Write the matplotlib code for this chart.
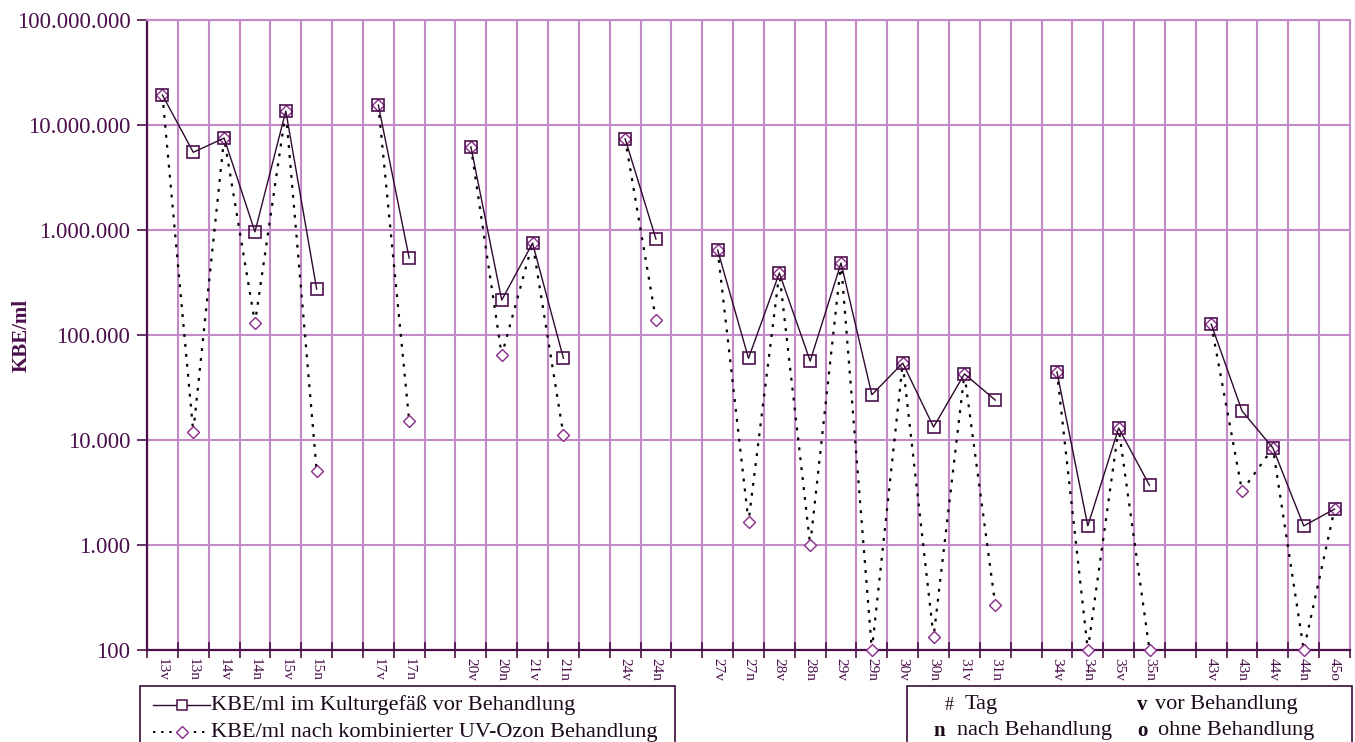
import numpy as np
import matplotlib
matplotlib.use("Agg")
import matplotlib.pyplot as plt
from matplotlib.lines import Line2D
from matplotlib.patches import Rectangle
from matplotlib.ticker import FixedLocator, NullFormatter

nan = np.nan
categories = ["13v", "13n", "14v", "14n", "15v", "15n", "",
              "17v", "17n", "",
              "20v", "20n", "21v", "21n", "",
              "24v", "24n", "",
              "27v", "27n", "28v", "28n", "29v", "29n", "30v", "30n", "31v", "31n", "",
              "34v", "34n", "35v", "35n", "",
              "43v", "43n", "44v", "44n", "45o"]

kbe_vor = [1.93e7, 5.5e6, 7.5e6, 9.6e5, 1.36e7, 2.74e5, nan,
           1.55e7, 5.4e5, nan,
           6.2e6, 2.15e5, 7.5e5, 6.0e4, nan,
           7.4e6, 8.2e5, nan,
           6.45e5, 6.0e4, 3.9e5, 5.65e4, 4.85e5, 2.7e4, 5.4e4, 1.33e4, 4.26e4, 2.4e4, nan,
           4.45e4, 1.52e3, 1.3e4, 3.7e3, nan,
           1.27e5, 1.89e4, 8.4e3, 1.52e3, 2.2e3]

kbe_nach = [1.93e7, 1.19e4, 7.5e6, 1.3e5, 1.36e7, 5.07e3, nan,
            1.55e7, 1.52e4, nan,
            6.2e6, 6.4e4, 7.5e5, 1.12e4, nan,
            7.4e6, 1.39e5, nan,
            6.45e5, 1.66e3, 3.9e5, 1.0e3, 4.85e5, 1.0e2, 5.4e4, 1.33e2, 4.26e4, 2.68e2, nan,
            4.45e4, 1.0e2, 1.3e4, 1.0e2, nan,
            1.27e5, 3.27e3, 8.4e3, 1.0e2, 2.2e3]

y_ticks = [1e2, 1e3, 1e4, 1e5, 1e6, 1e7, 1e8]
y_ticklabels = ["100", "1.000", "10.000", "100.000", "1.000.000", "10.000.000", "100.000.000"]

series_labels = ["KBE/ml im Kulturgefäß vor Behandlung",
                 "KBE/ml nach kombinierter UV-Ozon Behandlung"]

W, H = 1355, 742
SERIF = ["Liberation Serif", "DejaVu Serif"]
TXT = "#4a0f4a"
AXC = "#4b104b"
GRID = "#c48ac8"
LINEC = "#2d0a2d"
SQC = "#4b0f4b"
DIAC = "#8a2a8a"

plt.rcParams["font.family"] = SERIF
fig = plt.figure(figsize=(W / 100, H / 100), dpi=100)
fig.patch.set_facecolor("white")
ax = fig.add_axes([147 / W, 1 - 650 / H, (1350 - 147) / W, (650 - 20) / H])

x = np.arange(len(categories))
ax.plot(x, kbe_nach, linestyle=(0, (1.3, 3.2)), color="black", linewidth=1.6,
        marker="D", markersize=6.5, markerfacecolor="white", markeredgecolor=DIAC,
        markeredgewidth=1.0, clip_on=False, zorder=3)
ax.plot(x, kbe_vor, linestyle="-", color=LINEC, linewidth=1.0,
        marker="s", markersize=8.5, markerfacecolor="none", markeredgecolor=SQC,
        markeredgewidth=1.2, clip_on=False, zorder=4)

ax.set_yscale("log")
ax.set_ylim(1e2, 1e8)
ax.set_xlim(-0.5, len(categories) - 0.5)

ax.yaxis.set_minor_locator(FixedLocator([]))
ax.set_yticks(y_ticks)
ax.set_yticklabels(y_ticklabels, fontsize=16.5, color=TXT)
ax.tick_params(axis="y", which="major", direction="out", length=7, width=1.2,
               color=AXC, pad=5)

ax.set_xticks(x)
ax.set_xticklabels(categories, rotation=-90, fontsize=11, color=TXT, va="top", ha="center")
ax.tick_params(axis="x", which="major", length=0, pad=6)
ax.set_xticks(np.arange(-0.5, len(categories)), minor=True)
ax.xaxis.set_minor_formatter(NullFormatter())
ax.tick_params(axis="x", which="minor", direction="inout", length=11, width=1.2, color=AXC)

ax.grid(True, which="major", axis="y", color=GRID, linewidth=1.5, zorder=0)
ax.grid(True, which="minor", axis="x", color=GRID, linewidth=1.5, zorder=0)
ax.set_axisbelow(True)

for s in ["left", "bottom"]:
    ax.spines[s].set_color(AXC)
    ax.spines[s].set_linewidth(1.6)
for s in ["top", "right"]:
    ax.spines[s].set_color(GRID)
    ax.spines[s].set_linewidth(1.5)

fig.text(22 / W, 1 - 335 / H, "KBE/ml", rotation=90, fontsize=15, fontweight="bold",
         color=TXT, ha="center", va="center")


def fx(px):
    return px / W


def fy(py):
    return 1 - py / H


for x0, x1 in [(140, 675), (907, 1352)]:
    fig.add_artist(Rectangle((fx(x0), fy(760)), fx(x1) - fx(x0), fy(686) - fy(760),
                             transform=fig.transFigure, fill=False,
                             edgecolor="#3a0a3a", linewidth=1.2))

fig.add_artist(Line2D([fx(153), fx(210)], [fy(705), fy(705)], transform=fig.transFigure,
                      color=LINEC, linewidth=1.0))
fig.add_artist(Line2D([fx(182)], [fy(705)], transform=fig.transFigure, marker="s",
                      markersize=7, markerfacecolor="white", markeredgecolor=SQC,
                      markeredgewidth=1.1, linestyle="none"))
fig.add_artist(Line2D([fx(153), fx(210)], [fy(732), fy(732)], transform=fig.transFigure,
                      color="black", linewidth=1.4, linestyle=(0, (1.2, 3.0))))
fig.add_artist(Line2D([fx(182)], [fy(732)], transform=fig.transFigure, marker="D",
                      markersize=6, markerfacecolor="white", markeredgecolor=DIAC,
                      markeredgewidth=1.0, linestyle="none"))
fig.text(fx(211), fy(705), series_labels[0], fontsize=16, color="#1a0a1a",
         ha="left", va="center")
fig.text(fx(211), fy(732), series_labels[1], fontsize=16, color="#1a0a1a",
         ha="left", va="center")

legend_keys = ["#", "v", "n", "o"]
legend_desc = ["Tag", "vor Behandlung", "nach Behandlung", "ohne Behandlung"]
key_pos = [(945, 705), (1137, 705), (933, 731), (1137, 731)]
desc_pos = [(965, 705), (1155, 705), (957, 731), (1158, 731)]
for k, d, kp, dp in zip(legend_keys, legend_desc, key_pos, desc_pos):
    fig.text(fx(kp[0]), fy(kp[1]), k, fontsize=15 if k != "#" else 13,
             fontweight="normal" if k == "#" else "bold", color="#1a0a1a",
             ha="left", va="center")
    fig.text(fx(dp[0]), fy(dp[1]), d, fontsize=16, color="#1a0a1a",
             ha="left", va="center")

fig.savefig("out.png", dpi=100, facecolor="white")
